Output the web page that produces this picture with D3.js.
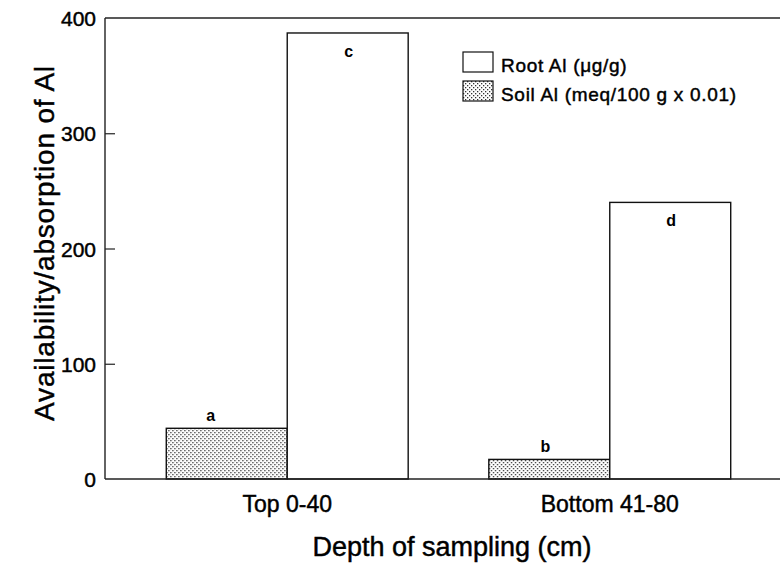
<!DOCTYPE html>
<html>
<head>
<meta charset="utf-8">
<script src="https://cdn.jsdelivr.net/npm/d3@7"></script>
<style>
  body { margin: 0; background: #fff; }
  svg { font-family: "Liberation Sans", Arial, Helvetica, sans-serif; }
  .heavy { stroke: #000; stroke-width: 0.45px; fill: #000; }
</style>
</head>
<body>
<div id="chart"></div>
<script>
// Data
const categories = ['Top 0-40', 'Bottom 41-80'];
const seriesNames = ['Soil Al (meq/100 g x 0.01)', 'Root Al (\u03bcg/g)'];
const soilAl = [44, 17];
const rootAl = [387, 240];
const soilLetters = ['a', 'b'];
const rootLetters = ['c', 'd'];
const yTicks = [0, 100, 200, 300, 400];

const width = 780, height = 563;
const margin = { top: 18, right: 0, bottom: 84, left: 105 };

const svg = d3.select('#chart')
  .append('svg')
  .attr('width', width)
  .attr('height', height);

// stipple fill used for soil bars
const defs = svg.append('defs');
const pat = defs.append('pattern')
  .attr('id', 'stipple')
  .attr('patternUnits', 'userSpaceOnUse')
  .attr('width', 4)
  .attr('height', 4);
pat.append('rect').attr('width', 4).attr('height', 4).attr('fill', '#fff');
pat.append('rect').attr('x', 0).attr('y', 0).attr('width', 1.3).attr('height', 1.3).attr('fill', '#333');
pat.append('rect').attr('x', 2).attr('y', 2).attr('width', 1.3).attr('height', 1.3).attr('fill', '#333');

const x0 = d3.scaleBand()
  .domain(categories)
  .range([margin.left, 792])
  .paddingInner(0.25)
  .paddingOuter(0.19);

const x1 = d3.scaleBand()
  .domain(['soil', 'root'])
  .range([0, x0.bandwidth()]);

const y = d3.scaleLinear()
  .domain([0, 400])
  .range([479, margin.top]);

const rows = categories.map((c, i) => ({
  cat: c,
  bars: [
    { key: 'soil', value: soilAl[i], letter: soilLetters[i], dx: i === 0 ? -16 : -4 },
    { key: 'root', value: rootAl[i], letter: rootLetters[i], dx: 1 }
  ]
}));

// Bars
const groups = svg.selectAll('g.group')
  .data(rows)
  .enter().append('g')
  .attr('class', 'group')
  .attr('transform', d => `translate(${x0(d.cat)},0)`);

groups.selectAll('rect')
  .data(d => d.bars)
  .enter().append('rect')
  .attr('x', d => x1(d.key))
  .attr('y', d => y(d.value))
  .attr('width', x1.bandwidth())
  .attr('height', d => y(0) - y(d.value))
  .attr('fill', d => d.key === 'soil' ? 'url(#stipple)' : '#fff')
  .attr('stroke', '#111')
  .attr('stroke-width', 1.4);

// significance letters
groups.selectAll('text.letter')
  .data(d => d.bars)
  .enter().append('text')
  .attr('class', 'letter')
  .attr('x', d => x1(d.key) + x1.bandwidth() / 2 + d.dx)
  .attr('y', d => d.key === 'soil' ? y(d.value) - 7 : y(d.value) + 24)
  .attr('text-anchor', 'middle')
  .attr('font-size', 16)
  .attr('font-weight', 'bold')
  .text(d => d.letter);

// Frame lines: left axis, top and bottom rules
const frame = svg.append('g').attr('stroke', '#222').attr('stroke-width', 1.4);
frame.append('line')
  .attr('x1', margin.left).attr('x2', margin.left)
  .attr('y1', y(400)).attr('y2', y(0));
frame.append('line')
  .attr('x1', margin.left).attr('x2', width)
  .attr('y1', y(400)).attr('y2', y(400));
frame.append('line')
  .attr('x1', margin.left).attr('x2', width)
  .attr('y1', y(0)).attr('y2', y(0));

// Y axis (ticks inward)
const yAxis = svg.append('g')
  .attr('transform', `translate(${margin.left},0)`)
  .call(d3.axisRight(y).tickValues(yTicks).tickSize(10).tickFormat(d3.format('d')));
yAxis.select('.domain').remove();
yAxis.selectAll('.tick line')
  .attr('stroke', '#222')
  .attr('stroke-width', 1.2)
  .attr('display', d => (d === 0 || d === 400) ? 'none' : null);
yAxis.selectAll('.tick text')
  .attr('class', 'heavy')
  .attr('x', -9)
  .attr('dy', '0.36em')
  .attr('text-anchor', 'end')
  .attr('font-size', 21);

// Category labels
svg.selectAll('text.cat')
  .data(categories)
  .enter().append('text')
  .attr('class', 'cat heavy')
  .attr('x', d => x0(d) + x0.bandwidth() / 2)
  .attr('y', 512)
  .attr('text-anchor', 'middle')
  .attr('font-size', 23)
  .text(d => d);

// Axis titles
svg.append('text')
  .attr('class', 'heavy')
  .attr('x', 452)
  .attr('y', 556)
  .attr('text-anchor', 'middle')
  .attr('font-size', 27)
  .text('Depth of sampling (cm)');

svg.append('text')
  .attr('class', 'heavy')
  .attr('transform', `translate(54,243) rotate(-90)`)
  .attr('text-anchor', 'middle')
  .attr('font-size', 28)
  .attr('letter-spacing', 0.8)
  .text('Availability/absorption of Al');

// Legend
const legendItems = [
  { name: seriesNames[1], fill: '#fff' },
  { name: seriesNames[0], fill: 'url(#stipple)' }
];
const legend = svg.append('g').attr('transform', 'translate(463,52)');
const li = legend.selectAll('g')
  .data(legendItems)
  .enter().append('g')
  .attr('transform', (d, i) => `translate(0,${i * 29})`);
li.append('rect')
  .attr('width', 30)
  .attr('height', 20)
  .attr('fill', d => d.fill)
  .attr('stroke', '#111')
  .attr('stroke-width', 1.2);
li.append('text')
  .attr('class', 'heavy')
  .attr('x', 38)
  .attr('y', 20)
  .attr('font-size', 19)
  .attr('letter-spacing', 0.7)
  .text(d => d.name);
</script>
</body>
</html>
